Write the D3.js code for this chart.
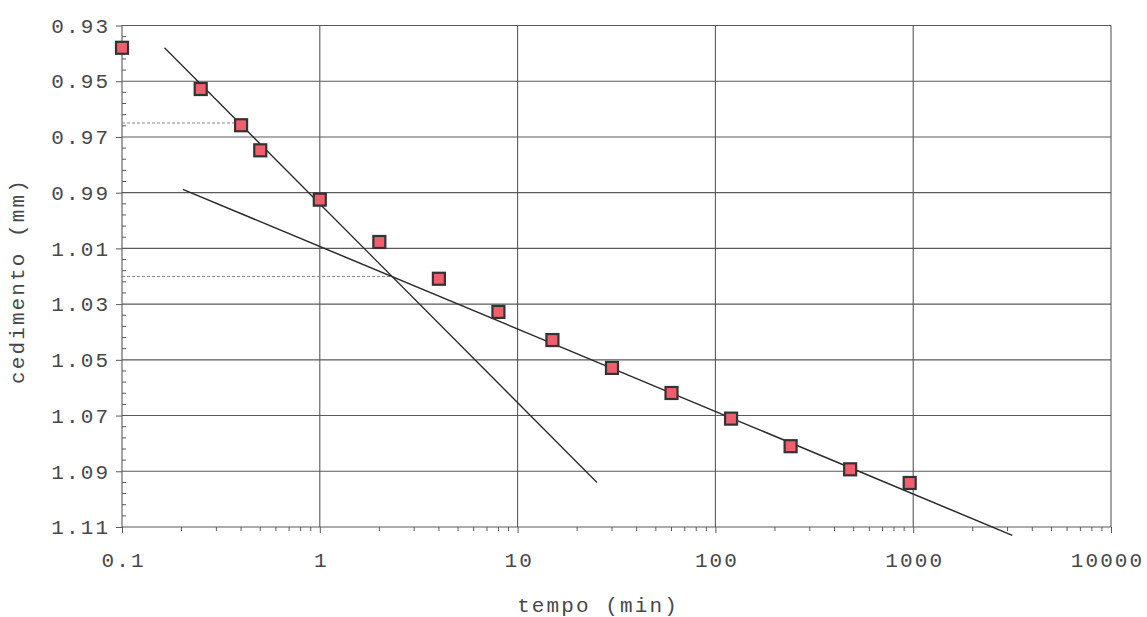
<!DOCTYPE html>
<html>
<head>
<meta charset="utf-8">
<script src="https://cdn.jsdelivr.net/npm/d3@7"></script>
<style>
  body { margin: 0; background: #fff; }
  svg text { font-family: "Liberation Mono", "DejaVu Sans Mono", monospace; fill: #484848; }
</style>
</head>
<body>
<div id="chart"></div>
<script>
// tempo (min) / cedimento (mm)
var times = [0.1, 0.25, 0.4, 0.5, 1, 2, 4, 8, 15, 30, 60, 120, 240, 480, 960];
var settlement = [0.938, 0.9528, 0.9658, 0.9748, 0.9925, 1.0077, 1.0209, 1.0328, 1.0429, 1.0529, 1.0619, 1.0711, 1.0810, 1.0893, 1.0942];

// the two straight lines drawn by hand
var steepX = [0.164, 25.2], steepY = [0.938, 1.094];
var flatX = [0.203, 3170], flatY = [0.9888, 1.113];

// dashed reading lines
var refX = [[0.1, 0.4], [0.1, 2.33]];
var refY = [0.965, 1.0201];

var xTicks = [0.1, 1, 10, 100, 1000, 10000];
var xTickLabels = ["0.1", "1", "10", "100", "1000", "10000"];
var yTicks = [0.93, 0.95, 0.97, 0.99, 1.01, 1.03, 1.05, 1.07, 1.09, 1.11];

var width = 1147, height = 617;
var margin = {left: 122, right: 36, top: 25.5, bottom: 90};
var ls = 2.1; // letter spacing of all texts

var svg = d3.select("#chart").append("svg")
    .attr("width", width)
    .attr("height", height);

var x = d3.scaleLog()
    .domain([0.1, 10000])
    .range([margin.left, width - margin.right]);
var y = d3.scaleLinear()
    .domain([0.93, 1.11])
    .range([margin.top, height - margin.bottom]);

var gridColor = "#5a5a5a";

// minor x ticks (2..9 in each decade)
var minorX = [];
for (var d = 0.1; d < 10000; d *= 10) {
    for (var k = 2; k <= 9; k++) minorX.push(+(d * k).toPrecision(3));
}
var minorY = d3.range(0, 45).map(function(i){ return 0.93 + i * 0.004; })
    .filter(function(v, i){ return i % 5 !== 0; });

// grid
svg.append("g").selectAll("line").data(yTicks).enter().append("line")
    .attr("x1", x(0.1)).attr("x2", x(10000))
    .attr("y1", function(d){ return y(d); }).attr("y2", function(d){ return y(d); })
    .attr("stroke", gridColor).attr("stroke-width", 1.1);
svg.append("g").selectAll("line").data(xTicks).enter().append("line")
    .attr("x1", function(d){ return x(d); }).attr("x2", function(d){ return x(d); })
    .attr("y1", y(0.93)).attr("y2", y(1.11))
    .attr("stroke", gridColor).attr("stroke-width", 1.1);

// x axis
var xAxis = svg.append("g")
    .attr("transform", "translate(0," + y(1.11) + ")")
    .call(d3.axisBottom(x).tickValues(xTicks).tickSize(6).tickPadding(19)
        .tickFormat(function(d, i){ return xTickLabels[i]; }));
xAxis.select(".domain").remove();
xAxis.selectAll(".tick line").attr("stroke", gridColor);
xAxis.selectAll("text")
    .attr("dx", function(d){ return d === 10000 ? -4 : ls / 2; })
    .style("font-size", "21px").style("letter-spacing", ls + "px");

svg.append("g").selectAll("line").data(minorX).enter().append("line")
    .attr("x1", function(d){ return x(d); }).attr("x2", function(d){ return x(d); })
    .attr("y1", y(1.11)).attr("y2", y(1.11) + 4)
    .attr("stroke", gridColor);

// y axis
var yAxis = svg.append("g")
    .attr("transform", "translate(" + x(0.1) + ",0)")
    .call(d3.axisLeft(y).tickValues(yTicks).tickSize(6).tickPadding(8)
        .tickFormat(d3.format(".2f")));
yAxis.select(".domain").remove();
yAxis.selectAll(".tick line").attr("stroke", gridColor);
yAxis.selectAll("text").attr("dx", ls)
    .style("font-size", "21px").style("letter-spacing", ls + "px");

svg.append("g").selectAll("line").data(minorY).enter().append("line")
    .attr("x1", x(0.1)).attr("x2", x(0.1) + 4)
    .attr("y1", function(d){ return y(d); }).attr("y2", function(d){ return y(d); })
    .attr("stroke", gridColor);

// axis titles
svg.append("text")
    .attr("x", 598).attr("y", 612)
    .attr("text-anchor", "middle")
    .style("font-size", "21px").style("letter-spacing", ls + "px")
    .text("tempo (min)");
svg.append("text")
    .attr("transform", "translate(24," + 281 + ") rotate(-90)")
    .attr("text-anchor", "middle")
    .style("font-size", "21px").style("letter-spacing", ls + "px")
    .text("cedimento (mm)");

// dashed reading lines
svg.append("g").selectAll("line").data(refY).enter().append("line")
    .attr("x1", function(d, i){ return x(refX[i][0]); })
    .attr("x2", function(d, i){ return x(refX[i][1]); })
    .attr("y1", function(d){ return y(d); }).attr("y2", function(d){ return y(d); })
    .attr("stroke", "#8a8a8a").attr("stroke-width", 1)
    .attr("stroke-dasharray", "3,2");

// fitted lines
var line = d3.line()
    .x(function(d){ return x(d[0]); })
    .y(function(d){ return y(d[1]); });
svg.append("path")
    .attr("d", line(d3.zip(steepX, steepY)))
    .attr("fill", "none").attr("stroke", "#2a2a2a").attr("stroke-width", 1.3);
svg.append("path")
    .attr("d", line(d3.zip(flatX, flatY)))
    .attr("fill", "none").attr("stroke", "#2a2a2a").attr("stroke-width", 1.5);

// data points
var s = 12;
svg.append("g").selectAll("rect").data(d3.zip(times, settlement)).enter().append("rect")
    .attr("x", function(d){ return x(d[0]) - s / 2; })
    .attr("y", function(d){ return y(d[1]) - s / 2; })
    .attr("width", s).attr("height", s)
    .attr("fill", "#f25f6c")
    .attr("stroke", "#333")
    .attr("stroke-width", 2.2);
</script>
</body>
</html>
